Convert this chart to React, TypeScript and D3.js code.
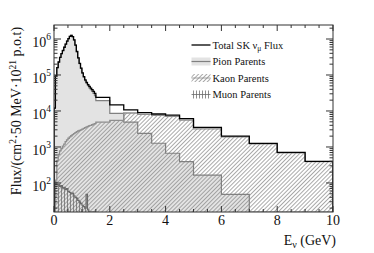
import React from 'react';
import * as d3 from 'd3';

// fine binning: 50 MeV bins from 0 to 1.5 GeV, then coarse bins
const fineBinWidth = 0.05;
const coarseEdges = [1.5, 2, 2.5, 3, 3.5, 4, 4.5, 5, 6, 7, 8, 9, 10];

const totalFine = [
  1.2e4, 9.5e4, 1.6e5, 2.3e5, 3.1e5, 3.9e5, 4.8e5, 5.9e5, 7.2e5, 8.7e5,
  1.03e6, 1.18e6, 1.26e6, 1.17e6, 9.5e5, 6.8e5, 4.5e5, 3.0e5, 2.1e5, 1.55e5,
  1.15e5, 9.0e4, 7.3e4, 6.2e4, 5.4e4, 4.8e4, 4.3e4, 3.9e4, 3.5e4, 3.1e4,
];
const totalCoarse = [2.4e4, 1.47e4, 1.07e4, 9.0e3, 8.25e3, 7.7e3, 6.1e3, 3.5e3, 2.0e3, 1.26e3, 710, 400];

const pionFine = [
  11900, 94800, 159500, 229300, 309100, 389000, 478900, 588700, 718500, 868300,
  1028200, 1178000, 1257900, 1167800, 947600, 677500, 447300, 297200, 207100, 152000,
  111800, 86700, 69500, 58400, 50200, 44100, 39000, 34850, 30700, 26550,
];
const pionCoarse = [1.93e4, 8.6e3, 4.9e3, 2.4e3, 1.27e3, 670, 390, 165, 48, 0, 0, 0];

const kaonFine = [
  0, 120, 420, 620, 780, 920, 1050, 1200, 1400, 1580,
  1750, 1900, 2050, 2200, 2350, 2500, 2650, 2780, 2900, 3000,
  3150, 3300, 3450, 3600, 3750, 3900, 4000, 4150, 4300, 4450,
];
const kaonCoarse = [4.9e3, 5.5e3, 8.8e3, 8.1e3, 7.6e3, 7.1e3, 5.6e3, 3.2e3, 1.9e3, 1.22e3, 690, 390];

const muonFine = [
  95, 105, 88, 92, 80, 84, 72, 76, 66, 70,
  58, 55, 50, 52, 44, 40, 38, 33, 30, 27,
  24, 22, 20, 48, 18, 14, 0, 0, 0, 0,
];

const xTickValues = [0, 2, 4, 6, 8, 10];
const yTickExponents = [2, 3, 4, 5, 6];

const legendItems = [
  { key: 'total', label: 'Total SK ν', sub: 'μ', tail: ' Flux' },
  { key: 'pion', label: 'Pion Parents' },
  { key: 'kaon', label: 'Kaon Parents' },
  { key: 'muon', label: 'Muon Parents' },
];

const width = 374;
const height = 253;
const margin = { top: 25, right: 41, bottom: 41, left: 54 };
const font = '"Liberation Serif", "Times New Roman", serif';

type Bin = { lo: number; hi: number; v: number };

const makeBins = (fine: number[], coarse: number[]): Bin[] => {
  const out: Bin[] = fine.map((v, i) => ({ lo: i * fineBinWidth, hi: (i + 1) * fineBinWidth, v }));
  coarse.forEach((v, i) => out.push({ lo: coarseEdges[i], hi: coarseEdges[i + 1], v }));
  return out;
};

const App = () => {
  const x = d3.scaleLinear().domain([0, 10]).range([margin.left, width - margin.right]);
  const y = d3.scaleLog().domain([15.6, 2.45e6]).range([height - margin.bottom, margin.top]).clamp(true);
  const yBottom = height - margin.bottom;

  const steps = (bins: Bin[]) => {
    const pts: [number, number][] = [[bins[0].lo, 0]];
    bins.forEach(b => {
      pts.push([b.lo, b.v]);
      pts.push([b.hi, b.v]);
    });
    pts.push([bins[bins.length - 1].hi, 0]);
    return pts;
  };
  const yv = (v: number) => (v <= 0 ? yBottom : y(v));
  const line = d3.line<[number, number]>().x(d => x(d[0])).y(d => yv(d[1]));
  const area = d3.area<[number, number]>().x(d => x(d[0])).y0(yBottom).y1(d => yv(d[1]));

  const total = steps(makeBins(totalFine, totalCoarse));
  const pion = steps(makeBins(pionFine, pionCoarse));
  const kaon = steps(makeBins(kaonFine, kaonCoarse));
  const muon = steps(makeBins(muonFine, []));

  const x0 = margin.left;
  const x1 = width - margin.right;
  const y0 = margin.top;
  const y1 = yBottom;

  const xMinor = d3.range(0, 10.001, 0.5).filter(v => Math.abs(v % 2) > 1e-6);
  const yMinor: number[] = [];
  for (let e = 1; e <= 6; e++) {
    for (let k = 2; k <= 9; k++) {
      const v = k * Math.pow(10, e);
      if (v >= 15.6 && v <= 2.45e6) yMinor.push(v);
    }
  }

  const pionFill = '#e3e3e3';
  const pionLine = '#808080';
  const kaonLine = '#8e8e8e';
  const muonLine = '#6a6a6a';

  const legX = 191.5;
  const legW = 19;
  const legRows = [45, 61.5, 78, 94.5];

  return (
    <div style={{ position: 'absolute', left: 0, top: 0 }}>
      <svg width={width} height={height} style={{ display: 'block', background: '#fff' }} fontFamily={font}>
        <defs>
          <clipPath id="plotClip">
            <rect x={x0} y={y0} width={x1 - x0} height={y1 - y0} />
          </clipPath>
          <pattern id="kaonHatch" patternUnits="userSpaceOnUse" width="2.9" height="10" patternTransform="rotate(45)">
            <line x1="1.45" y1="0" x2="1.45" y2="10" stroke="#8c8c8c" strokeWidth="0.75" />
          </pattern>
          <pattern id="muonHatch" patternUnits="userSpaceOnUse" width="3" height="10">
            <line x1="1.5" y1="0" x2="1.5" y2="10" stroke="#707070" strokeWidth="0.8" />
          </pattern>
        </defs>

        <g clipPath="url(#plotClip)">
          <path d={area(pion) ?? ''} fill={pionFill} />
          <path d={area(kaon) ?? ''} fill="url(#kaonHatch)" />
          <path d={area(muon) ?? ''} fill="url(#muonHatch)" />
          <path d={line(pion) ?? ''} fill="none" stroke={pionLine} strokeWidth={1.2} />
          <path d={line(kaon) ?? ''} fill="none" stroke={kaonLine} strokeWidth={1.3} />
          <path d={line(muon) ?? ''} fill="none" stroke={muonLine} strokeWidth={1.2} />
          <path d={line(total) ?? ''} fill="none" stroke="#000" strokeWidth={1.3} />
        </g>

        {/* frame */}
        <rect x={x0} y={y0} width={x1 - x0} height={y1 - y0} fill="none" stroke="#333" strokeWidth={1} />

        {/* x ticks */}
        {xTickValues.map(v => (
          <g key={`xt${v}`}>
            <line x1={x(v)} x2={x(v)} y1={y1} y2={y1 - 6} stroke="#333" />
            <line x1={x(v)} x2={x(v)} y1={y0} y2={y0 + 6} stroke="#333" />
            <text x={x(v)} y={225} textAnchor="middle" fontSize={14} fill="#111">{v}</text>
          </g>
        ))}
        {xMinor.map(v => (
          <g key={`xm${v}`}>
            <line x1={x(v)} x2={x(v)} y1={y1} y2={y1 - 3} stroke="#333" />
            <line x1={x(v)} x2={x(v)} y1={y0} y2={y0 + 3} stroke="#333" />
          </g>
        ))}

        {/* y ticks */}
        {yTickExponents.map(e => {
          const ty = y(Math.pow(10, e));
          return (
            <g key={`yt${e}`}>
              <line x1={x0} x2={x0 + 7} y1={ty} y2={ty} stroke="#333" />
              <line x1={x1} x2={x1 - 7} y1={ty} y2={ty} stroke="#333" />
              <text x={x0 - 3} y={ty + 8} textAnchor="end" fontSize={14} fill="#111">
                10<tspan dy={-7} fontSize={9.5}>{e}</tspan>
              </text>
            </g>
          );
        })}
        {yMinor.map(v => (
          <g key={`ym${v}`}>
            <line x1={x0} x2={x0 + 3.5} y1={y(v)} y2={y(v)} stroke="#333" />
            <line x1={x1} x2={x1 - 3.5} y1={y(v)} y2={y(v)} stroke="#333" />
          </g>
        ))}

        {/* axis titles */}
        <text x={336} y={245} textAnchor="end" fontSize={14} fill="#111">
          E<tspan dy={3} fontSize={10}>ν</tspan><tspan dy={-3}> (GeV)</tspan>
        </text>
        <text transform="translate(21,111) rotate(-90)" textAnchor="middle" fontSize={14} fill="#111">
          Flux/(cm<tspan dy={-5} fontSize={9.5}>2</tspan>
          <tspan dy={5}>·50 MeV·10</tspan>
          <tspan dy={-5} fontSize={9.5}>21</tspan>
          <tspan dy={5}> p.o.t)</tspan>
        </text>

        {/* legend */}
        {legendItems.map((it, i) => {
          const cy = legRows[i];
          let sym: React.ReactNode = null;
          if (it.key === 'total') {
            sym = <line x1={legX} x2={legX + legW} y1={cy} y2={cy} stroke="#000" strokeWidth={1.3} />;
          } else if (it.key === 'pion') {
            sym = (
              <g>
                <rect x={legX} y={cy - 4} width={legW} height={8} fill={pionFill} />
                <line x1={legX} x2={legX + legW} y1={cy} y2={cy} stroke={pionLine} strokeWidth={1.2} />
              </g>
            );
          } else if (it.key === 'kaon') {
            sym = (
              <g>
                <rect x={legX} y={cy - 4} width={legW} height={8} fill="url(#kaonHatch)" />
                <line x1={legX} x2={legX + legW} y1={cy} y2={cy} stroke={kaonLine} strokeWidth={0.8} />
              </g>
            );
          } else {
            sym = (
              <g>
                <rect x={legX} y={cy - 4} width={legW} height={8} fill="url(#muonHatch)" />
                <line x1={legX} x2={legX + legW} y1={cy} y2={cy} stroke={muonLine} strokeWidth={0.8} />
              </g>
            );
          }
          return (
            <g key={it.key}>
              {sym}
              <text x={legX + legW + 2} y={cy + 3.5} fontSize={10.5} fill="#111">
                {it.label}
                {it.sub ? <tspan dy={2.5} fontSize={7.5}>{it.sub}</tspan> : null}
                {it.tail ? <tspan dy={-2.5}>{it.tail}</tspan> : null}
              </text>
            </g>
          );
        })}
      </svg>
    </div>
  );
};

export default App;
